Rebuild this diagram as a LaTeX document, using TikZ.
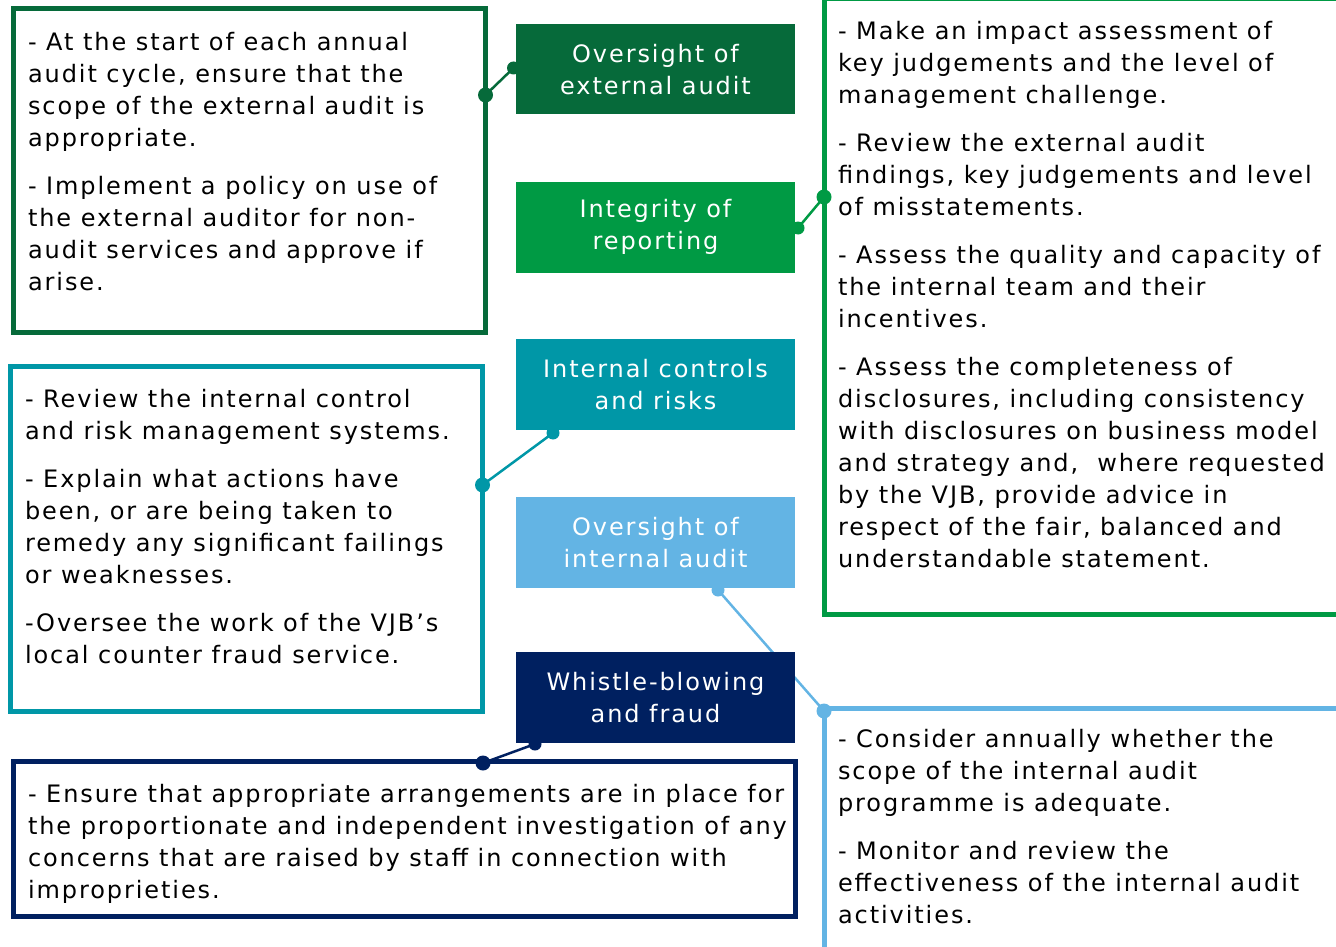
\documentclass[tikz,border=0pt]{standalone}
\usepackage{fontspec}
\setmainfont{DejaVu Sans}[LetterSpace=8]
\definecolor{dkgreen}{RGB}{6,106,58}
\definecolor{mdgreen}{RGB}{0,154,68}
\definecolor{cteal}{RGB}{0,151,167}
\definecolor{ltblue}{RGB}{99,180,228}
\definecolor{navy}{RGB}{0,32,96}
\begin{document}
\begin{tikzpicture}[x=1pt,y=-1pt,
  txt/.style={anchor=north west, inner sep=0pt, outer sep=0pt, align=left, font=\fontsize{24}{32}\selectfont, text=black},
  cbox/.style={rectangle, inner sep=0pt, outer sep=0pt, minimum width=279pt, minimum height=90.5pt, anchor=north west, text=white, align=center, font=\fontsize{24}{32}\selectfont},
  frame/.style={rectangle, draw, line width=5pt, inner sep=0pt, outer sep=0pt, anchor=north west},
  link/.style={line width=2.5pt},
  bigdot/.style={circle, inner sep=0pt, outer sep=0pt, minimum size=15pt},
  smalldot/.style={circle, inner sep=0pt, outer sep=0pt, minimum size=13pt},
]
\useasboundingbox (0,0) rectangle (1336,947);

% connector end points
\coordinate (p1o) at (485.5,95);
\coordinate (p1i) at (513.5,68);
\coordinate (p2i) at (798,228);
\coordinate (p2o) at (824,197);
\coordinate (p3i) at (553,433);
\coordinate (p3o) at (482.5,485);
\coordinate (p4i) at (718,590);
\coordinate (p4o) at (824,711);
\coordinate (p5i) at (535,744);
\coordinate (p5o) at (483,763);

% connectors (behind boxes)
\draw[link, dkgreen] (p1o) -- (p1i);
\draw[link, mdgreen] (p2i) -- (p2o);
\draw[link, cteal] (p3i) -- (p3o);
\draw[link, ltblue] (p4i) -- (p4o);
\draw[link, navy] (p5i) -- (p5o);

% outline boxes
\node[frame, draw=dkgreen, minimum width=472.5pt, minimum height=323.5pt] (extF) at (13,9) {};
\node[frame, draw=cteal, minimum width=472.5pt, minimum height=344.5pt] (ctrlF) at (10,366.5) {};
\node[frame, draw=navy, minimum width=782.5pt, minimum height=154.5pt] (fraudF) at (13,761.5) {};
\node[frame, draw=mdgreen, minimum width=514pt, minimum height=615.5pt] (repF) at (824,-1) {};
\node[frame, draw=ltblue, minimum width=514pt, minimum height=250pt] (intF) at (824,708.5) {};

% centre boxes
\node[cbox, fill=dkgreen] (extC) at (516,24) {Oversight of\\external audit};
\node[cbox, fill=mdgreen] (repC) at (516,182) {Integrity of\\reporting};
\node[cbox, fill=cteal] (ctrlC) at (516,339) {Internal controls\\and risks};
\node[cbox, fill=ltblue] (intC) at (516,497) {Oversight of\\internal audit};
\node[cbox, fill=navy] (fraudC) at (516,652) {Whistle-blowing\\and fraud};

% dots
\node[bigdot, fill=dkgreen] (d1o) at (p1o) {};
\node[smalldot, fill=dkgreen] (d1i) at (p1i) {};
\node[smalldot, fill=mdgreen] (d2i) at (p2i) {};
\node[bigdot, fill=mdgreen] (d2o) at (p2o) {};
\node[smalldot, fill=cteal] (d3i) at (p3i) {};
\node[bigdot, fill=cteal] (d3o) at (p3o) {};
\node[smalldot, fill=ltblue] (d4i) at (p4i) {};
\node[bigdot, fill=ltblue] (d4o) at (p4o) {};
\node[smalldot, fill=navy] (d5i) at (p5i) {};
\node[bigdot, fill=navy] (d5o) at (p5o) {};

% texts
\node[txt] (extT) at (28,30) {\rule{0pt}{20pt}- At the start of each annual\\audit cycle, ensure that the\\scope of the external audit is\\appropriate.\\[16pt]- Implement a policy on use of\\the external auditor for non-\\audit services and approve if\\arise.};

\node[txt] (repT) at (838,19) {\rule{0pt}{20pt}- Make an impact assessment of\\key judgements and the level of\\management challenge.\\[16pt]- Review the external audit\\findings, key judgements and level\\of misstatements.\\[16pt]- Assess the quality and capacity of\\the internal team and their\\incentives.\\[16pt]- Assess the completeness of\\disclosures, including consistency\\with disclosures on business model\\and strategy and, \ where requested\\by the VJB, provide advice in\\respect of the fair, balanced and\\understandable statement.};

\node[txt] (ctrlT) at (25,387) {\rule{0pt}{20pt}- Review the internal control\\and risk management systems.\\[16pt]- Explain what actions have\\been, or are being taken to\\remedy any significant failings\\or weaknesses.\\[16pt]-Oversee the work of the VJB’s\\local counter fraud service.};

\node[txt] (fraudT) at (28,782) {\rule{0pt}{20pt}- Ensure that appropriate arrangements are in place for\\the proportionate and independent investigation of any\\concerns that are raised by staff in connection with\\improprieties.};

\node[txt] (intT) at (838,727) {\rule{0pt}{20pt}- Consider annually whether the\\scope of the internal audit\\programme is adequate.\\[16pt]- Monitor and review the\\effectiveness of the internal audit\\activities.};
\end{tikzpicture}
\end{document}
